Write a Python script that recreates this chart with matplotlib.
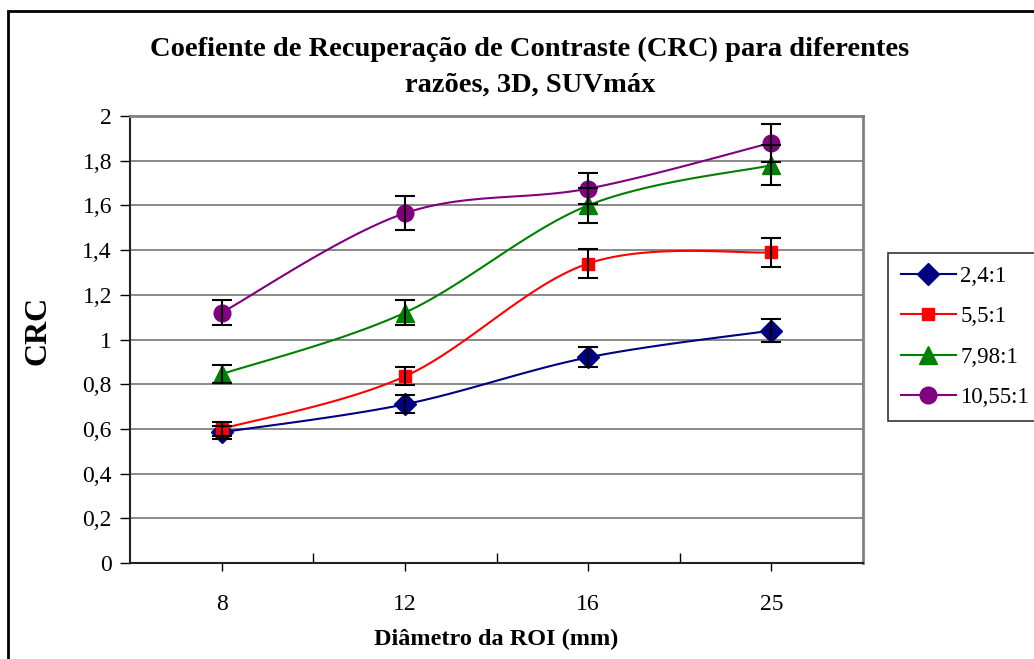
import numpy as np
import matplotlib.pyplot as plt
from matplotlib.patches import Rectangle
from matplotlib.ticker import FixedLocator

plt.rcParams['font.family'] = ['Liberation Serif', 'DejaVu Serif']

diametros = ['8', '12', '16', '25']
series = ['2,4:1', '5,5:1', '7,98:1', '10,55:1']
crc_24 = [0.585, 0.71, 0.92, 1.04]
crc_55 = [0.60, 0.835, 1.34, 1.39]
crc_798 = [0.845, 1.12, 1.60, 1.78]
crc_1055 = [1.12, 1.565, 1.675, 1.88]
err_24 = [0.03, 0.04, 0.045, 0.05]
err_55 = [0.03, 0.04, 0.065, 0.065]
err_798 = [0.04, 0.055, 0.08, 0.09]
err_1055 = [0.055, 0.075, 0.07, 0.085]
y_ticks = [0, 0.2, 0.4, 0.6, 0.8, 1.0, 1.2, 1.4, 1.6, 1.8, 2.0]

cores = ['#000080', '#FF0000', '#008000', '#800080']
marcadores = [('D', 11.5), ('s', 9), ('^', 13), ('o', 12)]


def suave(x, y, n=30):
    # excel-like smoothed line: bezier curves with catmull-rom control points
    p = np.column_stack([x, y]).astype(float)
    p = np.vstack([p[0], p, p[-1]])
    t = np.linspace(0, 1, n)[:, None]
    out = []
    for i in range(1, len(p) - 2):
        a, b = p[i], p[i + 1]
        c1 = a + (p[i + 1] - p[i - 1]) / 6
        c2 = b - (p[i + 2] - p[i]) / 6
        seg = ((1 - t) ** 3) * a + 3 * ((1 - t) ** 2) * t * c1 + 3 * (1 - t) * t ** 2 * c2 + t ** 3 * b
        out.append(seg)
    out = np.vstack(out)
    return out[:, 0], out[:, 1]


fig = plt.figure(figsize=(10.34, 6.59), dpi=100)
ax = fig.add_axes([130 / 1034, 1 - 563 / 659, 733 / 1034, 447 / 659])

x = np.arange(len(diametros))
dados = [crc_24, crc_55, crc_798, crc_1055]
erros = [err_24, err_55, err_798, err_1055]
handles = []
for vals, errs, cor, (m, ms), nome in zip(dados, erros, cores, marcadores, series):
    xs, ys = suave(x, vals)
    ax.plot(xs, ys, color=cor, lw=1.5, zorder=3)
    ax.plot(x, vals, ls='none', marker=m, ms=ms, color=cor, zorder=4)
    ax.errorbar(x, vals, yerr=errs, fmt='none', ecolor='black', elinewidth=1.5,
                capsize=7, capthick=1.5, zorder=5)
    h, = ax.plot([], [], color=cor, lw=1.5, marker=m, ms=ms, label=nome)
    handles.append(h)

ax.set_xlim(-0.5, len(diametros) - 0.5)
ax.set_ylim(0, 2)
ax.set_xticks(x)
ax.set_xticklabels(diametros, fontsize=17)
ax.xaxis.set_minor_locator(FixedLocator([0.5, 1.5, 2.5]))
ax.tick_params(axis='x', which='major', direction='out', length=6, width=1, pad=16)
ax.tick_params(axis='x', which='minor', direction='in', length=7, width=1)
ax.set_yticks(y_ticks)
ax.set_yticklabels([('%g' % v).replace('.', ',') for v in y_ticks], fontsize=17)
ax.tick_params(axis='y', direction='out', length=7, width=1, pad=6)
ax.grid(axis='y', color='#808080', lw=1.3)
ax.set_axisbelow(True)
for s in ['top', 'right']:
    ax.spines[s].set_color('#808080')
    ax.spines[s].set_linewidth(2)
for s in ['left', 'bottom']:
    ax.spines[s].set_color('#222222')
    ax.spines[s].set_linewidth(1.5)

ax.set_xlabel('Diâmetro da ROI (mm)', fontsize=17.5, fontweight='bold', labelpad=10)
fig.text(38 / 1034, 1 - 330 / 659, 'CRC', rotation=90, fontsize=23, fontweight='bold',
         ha='center', va='center')
fig.text(530 / 1034, 1 - 67 / 659,
         'Coefiente de Recuperação de Contraste (CRC) para diferentes\nrazões, 3D, SUVmáx',
         fontsize=20.5, fontweight='bold', ha='center', va='center', linespacing=1.55)

leg = fig.legend(handles=handles, loc='upper left', bbox_to_anchor=(888 / 1034, 1 - 253 / 659),
                 borderaxespad=0, fontsize=16.5, frameon=True, fancybox=False, edgecolor='black',
                 handlelength=2.4, labelspacing=0.85, borderpad=0.55, handletextpad=0.2)
leg.get_frame().set_linewidth(1.2)

fig.patches.append(Rectangle((8 / 1034, -0.1), 1.2, 1 - 11 / 659 + 0.1, transform=fig.transFigure,
                             fill=False, edgecolor='black', lw=2))

fig.savefig('out.png', dpi=100)
